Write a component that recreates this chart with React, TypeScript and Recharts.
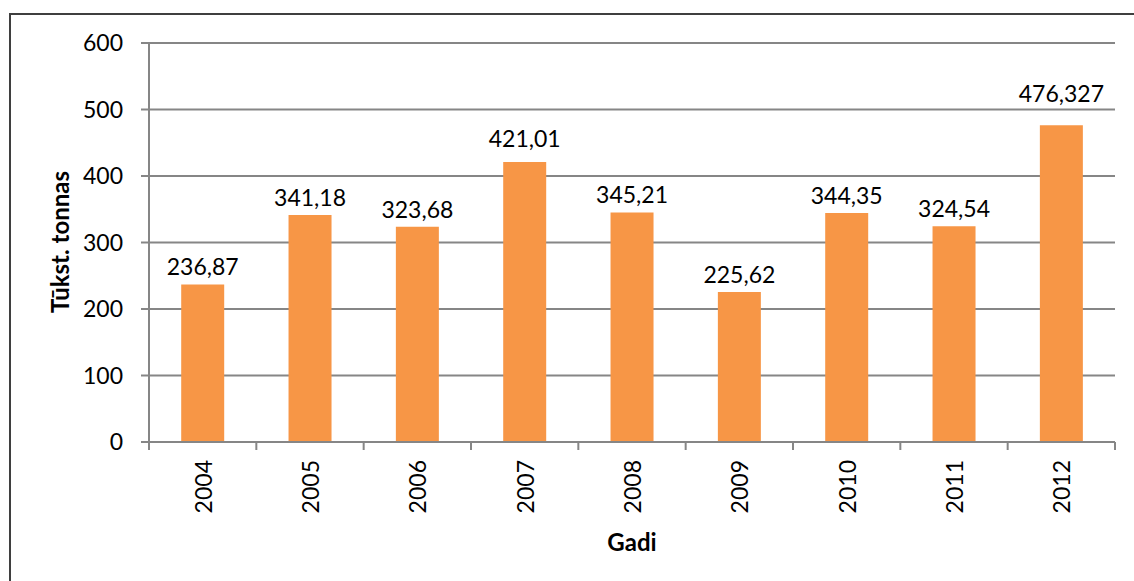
import React from 'react'
import { BarChart, Bar, XAxis, YAxis, CartesianGrid, LabelList } from 'recharts'

const years = ['2004', '2005', '2006', '2007', '2008', '2009', '2010', '2011', '2012']
const values = [236.87, 341.18, 323.68, 421.01, 345.21, 225.62, 344.35, 324.54, 476.327]
const yTicks = [0, 100, 200, 300, 400, 500, 600]

const data = years.map((year, i) => ({ year, value: values[i] }))

const FONT = 'Lato, "Open Sans", sans-serif'
const GRID = '#868686'
const BAR = '#F79646'
const PLOT_BOTTOM = 442
const HALF_BAND = (1115 - 149) / 9 / 2
// extra lift for labels that were nudged off the gridlines in the original
const LABEL_LIFT = [0, 0, 0, 6, 0, 0, 0, 0, 14]

function YearTick(props: any) {
  const { x, payload, index } = props
  const off = payload?.offset ?? HALF_BAND
  return (
    <g>
      <line x1={x - off} y1={PLOT_BOTTOM} x2={x - off} y2={PLOT_BOTTOM + 8} stroke={GRID} strokeWidth={2} />
      {index === years.length - 1 && (
        <line x1={x + off} y1={PLOT_BOTTOM} x2={x + off} y2={PLOT_BOTTOM + 8} stroke={GRID} strokeWidth={2} />
      )}
      <text
        x={x}
        y={PLOT_BOTTOM + 18}
        transform={`rotate(-90, ${x}, ${PLOT_BOTTOM + 18})`}
        textAnchor="end"
        dominantBaseline="central"
        fontSize={23}
        fontFamily={FONT}
        fill="#000"
      >
        {payload.value}
      </text>
    </g>
  )
}

function ValueLabel(props: any) {
  const { x, y, width, value, index } = props
  const ty = y - 9 - (LABEL_LIFT[index] ?? 0)
  return (
    <text x={x + width / 2} y={ty} textAnchor="middle" fontSize={23} fontFamily={FONT} fill="#000">
      {String(value).replace('.', ',')}
    </text>
  )
}

function YTitle() {
  return (
    <text
      x={59}
      y={242}
      transform="rotate(-90, 59, 242)"
      textAnchor="middle"
      dominantBaseline="central"
      fontSize={24}
      fontWeight="bold"
      fontFamily={FONT}
      fill="#000"
    >
      Tūkst. tonnas
    </text>
  )
}

function XTitle() {
  return (
    <text x={632} y={541} textAnchor="middle" dominantBaseline="central" fontSize={24} fontWeight="bold" fontFamily={FONT} fill="#000">
      Gadi
    </text>
  )
}

export default function App() {
  return (
    <div style={{ position: 'fixed', left: 0, top: 0, width: 1134, height: 581, background: '#fff', overflow: 'hidden' }}>
      <div style={{ position: 'absolute', left: 9, top: 13, width: 1160, height: 620, border: '2px solid #3f3f3f', boxSizing: 'border-box' }} />
      <div style={{ position: 'absolute', left: 0, top: 0 }}>
        <BarChart width={1134} height={581} data={data} margin={{ top: 43, right: 19, left: 0, bottom: 0 }} barCategoryGap="30%">
          <CartesianGrid vertical={false} stroke={GRID} strokeWidth={2} />
          <XAxis
            dataKey="year"
            height={139}
            interval={0}
            stroke={GRID}
            strokeWidth={2}
            tickLine={false}
            tick={<YearTick />}
            label={<XTitle />}
          />
          <YAxis
            width={149}
            domain={[0, 600]}
            ticks={yTicks}
            tickSize={8}
            tickMargin={18}
            stroke={GRID}
            strokeWidth={2}
            tick={{ fill: '#000', fontSize: 23, fontFamily: FONT }}
            label={<YTitle />}
          />
          <Bar dataKey="value" fill={BAR} isAnimationActive={false}>
            <LabelList dataKey="value" content={<ValueLabel />} />
          </Bar>
        </BarChart>
      </div>
    </div>
  )
}
